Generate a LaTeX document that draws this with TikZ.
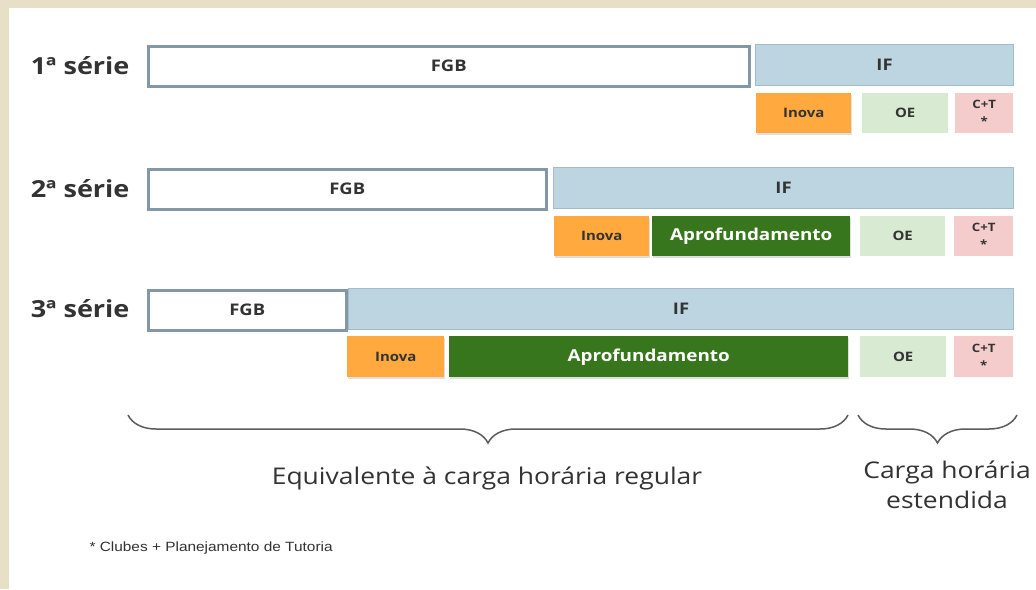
\documentclass[tikz,border=0pt]{standalone}
\usepackage{fontspec}
\setmainfont[FakeStretch=1.15]{Open Sans}
\newfontfamily\notefont[FakeStretch=1.15]{Liberation Sans}
\usetikzlibrary{positioning, decorations.pathreplacing, shadows}
\definecolor{frame}{HTML}{E7DFC7}
\definecolor{txtgray}{HTML}{333333}
\definecolor{fgbline}{HTML}{8398A6}
\definecolor{iffill}{HTML}{BDD5E1}
\definecolor{ifline}{HTML}{A3BCCB}
\definecolor{inovafill}{HTML}{FFA93E}
\definecolor{aproffill}{HTML}{38761D}
\definecolor{oefill}{HTML}{D9EAD3}
\definecolor{ctfill}{HTML}{F4CCCC}
\tikzset{
    bar/.style={anchor=north west, inner sep=0pt, text=txtgray,
        font=\bfseries\fontsize{13}{13}\selectfont},
    fgb/.style={bar, fill=white, draw=fgbline, line width=2.5pt, font=\bfseries\fontsize{16}{16}\selectfont},
    itin/.style={bar, fill=iffill, draw=ifline, line width=1pt, font=\bfseries\fontsize{16}{16}\selectfont},
    inova/.style={bar, fill=inovafill, drop shadow={opacity=0.25, shadow xshift=1pt, shadow yshift=-2pt}},
    aprof/.style={bar, fill=aproffill, text=white, font=\bfseries\fontsize{16.4}{16.4}\selectfont,
        drop shadow={opacity=0.25, shadow xshift=1pt, shadow yshift=-2pt}},
    oe/.style={bar, fill=oefill},
    ct/.style={bar, fill=ctfill, align=center, font=\bfseries\fontsize{11.5}{17}\selectfont},
    serie/.style={anchor=east, text=txtgray, font=\bfseries\fontsize{23.5}{23.5}\selectfont},
    brace/.style={decorate, decoration={brace, mirror, amplitude=28pt}, draw=txtgray!80, line width=1.5pt},
    bracetext/.style={text=txtgray, align=center, font=\fontsize{23}{30}\selectfont}
}
\begin{document}
\begin{tikzpicture}[x=1pt, y=-1pt]
    \useasboundingbox (0,0) rectangle (1036,589);
    % Frame
    \fill[frame] (0,0) rectangle (1036,589);
    \fill[white] (9,8) rectangle (1036,589);
    % 1a serie
    \node[serie] (s1) at (133,66) {1ª série};
    \node[fgb, minimum width=601pt, minimum height=40pt] (fgb1) at (147,45) {FGB};
    \node[itin, minimum width=258pt, minimum height=41pt] (if1) at (755,44) {IF};
    \node[inova, minimum width=95pt, minimum height=40pt] (inova1) at (756,93) {Inova};
    \node[oe, minimum width=86pt, minimum height=40pt] (oe1) at (862,93) {OE};
    \node[ct, minimum width=58pt, minimum height=40pt] (ct1) at (955,93) {C+T\\*};
    % 2a serie
    \node[serie] (s2) at (133,189) {2ª série};
    \node[fgb, minimum width=398pt, minimum height=40pt] (fgb2) at (147,168) {FGB};
    \node[itin, minimum width=460pt, minimum height=41pt] (if2) at (553,167) {IF};
    \node[inova, minimum width=95pt, minimum height=40pt] (inova2) at (554,216) {Inova};
    \node[aprof, minimum width=198pt, minimum height=40pt] (aprof2) at (652,216) {Aprofundamento};
    \node[oe, minimum width=85pt, minimum height=40pt] (oe2) at (860,216) {OE};
    \node[ct, minimum width=59pt, minimum height=40pt] (ct2) at (954,216) {C+T\\*};
    % 3a serie
    \node[serie] (s3) at (133,309) {3ª série};
    \node[fgb, minimum width=198pt, minimum height=40pt] (fgb3) at (147,289) {FGB};
    \node[itin, minimum width=665pt, minimum height=41pt] (if3) at (348,288) {IF};
    \node[inova, minimum width=97pt, minimum height=41pt] (inova3) at (347,336) {Inova};
    \node[aprof, minimum width=399pt, minimum height=41pt] (aprof3) at (449,336) {Aprofundamento};
    \node[oe, minimum width=86pt, minimum height=41pt] (oe3) at (860,336) {OE};
    \node[ct, minimum width=59pt, minimum height=41pt] (ct3) at (954,336) {C+T\\*};
    % Braces
    \coordinate (reg1) at (128,415);
    \coordinate (reg2) at (848,415);
    \coordinate (ext1) at (858,415);
    \coordinate (ext2) at (1017,415);
    \draw[brace] (reg1) -- (reg2);
    \draw[brace] (ext1) -- (ext2);
    \node[bracetext] (regular) at (487,478) {Equivalente à carga horária regular};
    \node[bracetext] (estendida) at (947,485) {Carga horária\\estendida};
    % Footnote
    \node[anchor=west, text=txtgray, font=\notefont\fontsize{13.4}{13.4}\selectfont] (nota) at (86,548) {* Clubes + Planejamento de Tutoria};
\end{tikzpicture}
\end{document}
